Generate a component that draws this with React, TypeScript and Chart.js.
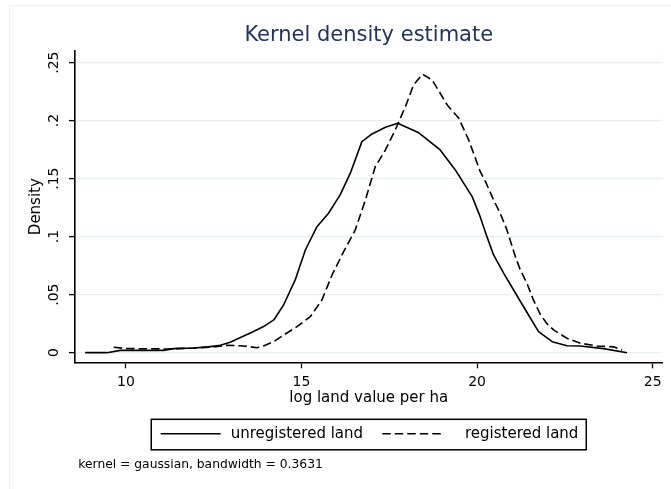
import React, { useEffect, useRef } from 'react';
import { Chart, registerables } from 'chart.js';

Chart.register(...registerables);

const FONT = '"DejaVu Sans", "Liberation Sans", sans-serif';

const chartTitle = 'Kernel density estimate';
const xAxisTitle = 'log land value per ha';
const yAxisTitle = 'Density';
const noteText = 'kernel = gaussian, bandwidth = 0.3631';
const seriesNames = ['unregistered land', 'registered land'];

// unregistered land (solid)
const unregX = [8.84, 9.46, 9.84, 10.5, 11.07, 11.36, 11.93, 12.35, 12.69, 12.97, 13.26, 13.59, 13.92, 14.21, 14.49, 14.82, 15.11, 15.44, 15.77, 16.1, 16.39, 16.72, 17.01, 17.39, 17.74, 18.34, 18.95, 19.38, 19.86, 20.09, 20.28, 20.47, 20.76, 21.04, 21.38, 21.75, 22.14, 22.56, 22.94, 23.6, 24.27];
const unregY = [0, 0, 0.002, 0.002, 0.002, 0.0035, 0.004, 0.005, 0.0064, 0.009, 0.013, 0.0176, 0.0225, 0.0282, 0.0411, 0.0627, 0.0885, 0.1086, 0.1202, 0.136, 0.1547, 0.1819, 0.1885, 0.1943, 0.1978, 0.1895, 0.1747, 0.1575, 0.1345, 0.117, 0.1, 0.0842, 0.0684, 0.054, 0.0368, 0.0181, 0.0095, 0.006, 0.0058, 0.0035, 0.0];

// registered land (dashed)
const regX = [9.65, 10.03, 11.17, 11.93, 12.5, 12.88, 13.35, 13.73, 13.92, 14.21, 14.54, 14.87, 15.25, 15.58, 15.87, 16.2, 16.53, 16.82, 17.1, 17.39, 17.67, 17.96, 18.19, 18.45, 18.72, 18.95, 19.15, 19.48, 19.76, 20.09, 20.24, 20.47, 20.66, 20.85, 21.09, 21.23, 21.42, 21.61, 21.8, 21.99, 22.18, 22.56, 22.94, 23.42, 23.89, 24.13];
const regY = [0.0047, 0.0035, 0.0032, 0.004, 0.005, 0.0064, 0.0058, 0.0043, 0.0058, 0.0095, 0.0161, 0.0224, 0.031, 0.0454, 0.067, 0.087, 0.1058, 0.1316, 0.1603, 0.1747, 0.192, 0.2121, 0.2308, 0.24, 0.2351, 0.2236, 0.2135, 0.202, 0.1834, 0.156, 0.1474, 0.1316, 0.12, 0.1058, 0.0828, 0.0713, 0.0598, 0.045, 0.033, 0.025, 0.0196, 0.0124, 0.0081, 0.0058, 0.005, 0.0023];

const xTicks = [10, 15, 20, 25];
const xTickLabels = ['10', '15', '20', '25'];
const yTicks = [0, 0.05, 0.1, 0.15, 0.2, 0.25];
const yTickLabels = ['0', '.05', '.1', '.15', '.2', '.25'];
const xRange = [8.55, 25.28];
const yRange = [-0.0083, 0.26];

const toPoints = (xs: number[], ys: number[]) => xs.map((x, i) => ({ x, y: ys[i] }));

const stataExtras = {
  id: 'stataExtras',
  beforeDraw(chart: any) {
    const { ctx, width, height } = chart;
    ctx.save();
    ctx.fillStyle = '#ffffff';
    ctx.fillRect(0, 0, width, height);
    ctx.strokeStyle = '#edf2f5';
    ctx.lineWidth = 1.5;
    ctx.strokeRect(9.5, 5.5, width + 20, height + 20);
    ctx.restore();
  },
  afterDraw(chart: any) {
    const { ctx, chartArea } = chart;
    const cx = (chartArea.left + chartArea.right) / 2;
    const boxW = 435;
    const boxH = 30.5;
    const boxL = cx - boxW / 2;
    const boxT = chartArea.bottom + 57;
    ctx.save();
    ctx.strokeStyle = '#000';
    ctx.lineWidth = 1.5;
    ctx.setLineDash([]);
    ctx.strokeRect(boxL, boxT, boxW, boxH);
    const midY = boxT + 14.5;
    const entries = [
      { x: boxL + 9.4, textX: boxL + 79.4 },
      { x: boxL + 231, textX: boxL + 313.7 },
    ];
    ctx.font = `15px ${FONT}`;
    ctx.textBaseline = 'middle';
    ctx.textAlign = 'left';
    ctx.fillStyle = '#000';
    chart.data.datasets.forEach((ds: any, i: number) => {
      const e = entries[i];
      ctx.beginPath();
      ctx.setLineDash(ds.borderDash || []);
      ctx.lineWidth = ds.borderWidth;
      ctx.strokeStyle = ds.borderColor;
      ctx.moveTo(e.x, midY);
      ctx.lineTo(e.x + 60, midY);
      ctx.stroke();
      ctx.setLineDash([]);
      ctx.fillText(ds.label, e.textX, midY);
    });
    ctx.font = `12.3px ${FONT}`;
    ctx.textBaseline = 'alphabetic';
    ctx.fillText(noteText, chartArea.left + 3.3, 468);
    ctx.restore();
  },
};

export default function App() {
  const ref = useRef<HTMLCanvasElement>(null);
  useEffect(() => {
    const chart = new Chart(ref.current as HTMLCanvasElement, {
      type: 'line',
      data: {
        datasets: [
          {
            label: seriesNames[0],
            data: toPoints(unregX, unregY),
            borderColor: '#000000',
            borderWidth: 1.6,
            pointRadius: 0,
            tension: 0,
            fill: false,
            borderJoinStyle: 'round',
          },
          {
            label: seriesNames[1],
            data: toPoints(regX, regY),
            borderColor: '#000000',
            borderWidth: 1.6,
            borderDash: [8.5, 4],
            pointRadius: 0,
            tension: 0,
            fill: false,
            borderJoinStyle: 'round',
          },
        ],
      },
      options: {
        responsive: false,
        animation: false,
        events: [],
        layout: { padding: { left: 0, right: 8.5, top: 0, bottom: 0 } },
        plugins: {
          legend: { display: false },
          tooltip: { enabled: false },
          title: {
            display: true,
            fullSize: false,
            text: chartTitle,
            color: '#22335e',
            font: { family: FONT, size: 21, weight: 'normal' },
            padding: { top: 23.4, bottom: 2.4 },
          },
        },
        scales: {
          x: {
            type: 'linear',
            min: xRange[0],
            max: xRange[1],
            afterBuildTicks: (s: any) => {
              s.ticks = xTicks.map((v) => ({ value: v }));
            },
            afterFit: (s: any) => {
              s.height = 126.7;
            },
            ticks: {
              callback: (v: any) => xTickLabels[xTicks.indexOf(v)],
              font: { family: FONT, size: 14 },
              color: '#000',
              padding: 6,
              maxRotation: 0,
              autoSkip: false,
            },
            grid: {
              drawOnChartArea: false,
              drawTicks: true,
              tickLength: 6,
              tickColor: '#000',
              tickWidth: 1.3,
            },
            border: { display: true, color: '#000', width: 1.6 },
            title: {
              display: true,
              text: xAxisTitle,
              color: '#000',
              font: { family: FONT, size: 15 },
              padding: { top: 0, bottom: 82 },
            },
          },
          y: {
            type: 'linear',
            min: yRange[0],
            max: yRange[1],
            afterBuildTicks: (s: any) => {
              s.ticks = yTicks.map((v) => ({ value: v }));
            },
            afterFit: (s: any) => {
              s.width = 75;
            },
            ticks: {
              callback: (v: any) => yTickLabels[yTicks.indexOf(v)],
              font: { family: FONT, size: 14 },
              color: '#000',
              padding: 3.6,
              minRotation: 90,
              maxRotation: 90,
              crossAlign: 'center',
              autoSkip: false,
            },
            grid: {
              color: '#e8eff2',
              lineWidth: 1.2,
              drawTicks: true,
              tickLength: 6,
              tickColor: '#000',
              tickWidth: 1.3,
            },
            border: { display: true, color: '#000', width: 1.6 },
            title: {
              display: true,
              text: yAxisTitle,
              color: '#000',
              font: { family: FONT, size: 15 },
              padding: { top: 27, bottom: 0 },
            },
          },
        },
      },
      plugins: [stataExtras],
    } as any);
    return () => chart.destroy();
  }, []);
  return (
    <div style={{ position: 'fixed', left: 0, top: 0, width: 671, height: 489, background: '#fff' }}>
      <canvas ref={ref} width={671} height={489} style={{ display: 'block', width: 671, height: 489 }} />
    </div>
  );
}
